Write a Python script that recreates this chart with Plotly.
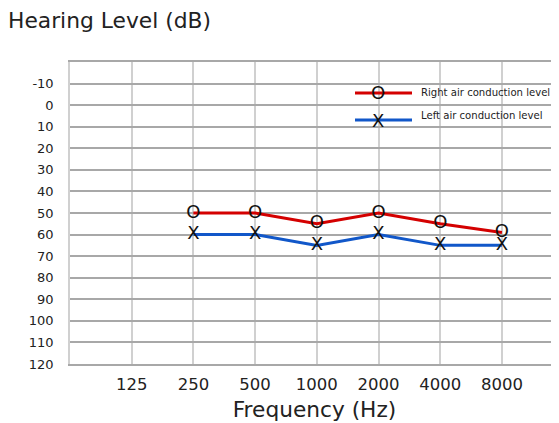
import plotly.graph_objects as go

freqs = ["125", "250", "500", "1000", "2000", "4000", "8000"]
test_freqs = ["250", "500", "1000", "2000", "4000", "8000"]
right_air = [50, 50, 55, 50, 55, 59]
left_air = [60, 60, 65, 60, 65, 65]
y_ticks = [-10, 0, 10, 20, 30, 40, 50, 60, 70, 80, 90, 100, 110, 120]
y_tick_labels = ["-10", "0", "10", "20", "30", "40", "50", "60", "70", "80", "90", "100", "110", "120"]
right_name = "Right air conduction level"
left_name = "Left air conduction level"

FONT = "DejaVu Sans, Verdana, sans-serif"
RED = "#d40000"
BLUE = "#1157c9"

OFF = 8  # default page body margin
W, H = 559 - OFF, 423 - OFF
L, T = 70 - OFF, 62 - OFF
B = H - (364 - OFF)
R = 0
PW, PH = W - L - R, H - T - B

def px_x(x):
    return (x - OFF - L) / PW

def px_y(y):
    return 1 - (y - OFF - T) / PH

fig = go.Figure()
fig.add_trace(go.Scatter(
    x=test_freqs, y=right_air, mode="lines+text", text=["O"] * len(right_air),
    textposition="middle center", textfont=dict(size=18, color="#111", family=FONT),
    line=dict(color=RED, width=3), name=right_name, showlegend=False, cliponaxis=False))
fig.add_trace(go.Scatter(
    x=test_freqs, y=left_air, mode="lines+text", text=["X"] * len(left_air),
    textposition="middle center", textfont=dict(size=18, color="#111", family=FONT),
    line=dict(color=BLUE, width=3), name=left_name, showlegend=False, cliponaxis=False))

# manual legend
shapes = []
annotations = []
for (ly, ty, col, sym, name) in [(93, 93, RED, "O", right_name), (120, 115, BLUE, "X", left_name)]:
    shapes.append(dict(type="line", xref="paper", yref="paper",
                       x0=px_x(355), x1=px_x(412), y0=px_y(ly), y1=px_y(ly),
                       line=dict(color=col, width=3)))
    annotations.append(dict(xref="paper", yref="paper", x=px_x(378), y=px_y(ly),
                            text=sym, showarrow=False, xanchor="center", yanchor="middle",
                            font=dict(size=18, color="#111", family=FONT)))
    annotations.append(dict(xref="paper", yref="paper", x=px_x(419), y=px_y(ty),
                            text=name, showarrow=False, xanchor="left", yanchor="middle",
                            font=dict(size=10.1, color="#222", family=FONT)))

fig.update_layout(
    width=W, height=H, autosize=False,
    margin=dict(l=L, r=R, t=T, b=B, pad=0),
    paper_bgcolor="white", plot_bgcolor="white",
    font=dict(family=FONT, color="#222"),
    title=dict(text="Hearing Level (dB)", xref="container", yref="container",
               x=0, xanchor="left", y=1 - (20 - OFF) / H, yanchor="middle",
               pad=dict(l=0, r=0, t=0, b=0),
               font=dict(size=21.8, color="#222", family=FONT)),
    shapes=shapes, annotations=annotations,
    xaxis=dict(type="category", categoryorder="array", categoryarray=freqs,
               range=[-1, 6.925], showgrid=True, gridcolor="#d0d0d0", gridwidth=1.5,
               showline=True, mirror=True, linecolor="#a8a8a8", linewidth=1.5,
               ticks="", tickfont=dict(size=16.5, color="#222"), ticklabelstandoff=4,
               zeroline=False,
               title=dict(text="Frequency (Hz)", font=dict(size=21.7, color="#222"), standoff=9)),
    yaxis=dict(range=[120, -20], tickvals=y_ticks, ticktext=y_tick_labels, showgrid=True,
               gridcolor="#a8a8a8", gridwidth=1.5, showline=True, linecolor="#d0d0d0",
               linewidth=1.5, ticks="", tickfont=dict(size=13, color="#222"),
               ticklabelstandoff=12, zeroline=False),
)

fig.write_html("out.html")
